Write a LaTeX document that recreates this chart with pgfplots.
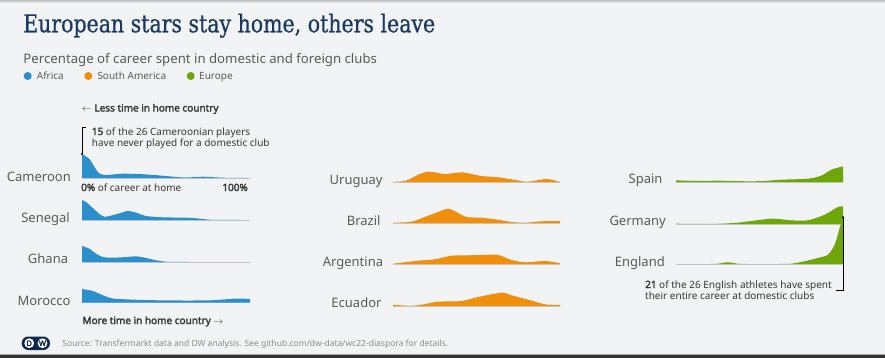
\documentclass[border=0pt]{standalone}
\usepackage{pgfplots}
\pgfplotsset{compat=1.18}
\usepackage{fontspec}
\setmainfont{Noto Sans}[BoldFont={Noto Sans}, BoldFeatures={FakeBold=2.4}]
\newfontfamily\titlefont{DejaVu Serif}[FakeBold=0.7]
\definecolor{bg}{RGB}{241,243,245}
\definecolor{afr}{RGB}{43,143,203}
\definecolor{sam}{RGB}{240,143,12}
\definecolor{eur}{RGB}{108,166,8}
\definecolor{navy}{RGB}{26,57,94}
\definecolor{lab}{RGB}{90,90,90}
\definecolor{ann}{RGB}{55,55,55}
\definecolor{src}{RGB}{140,140,140}
\definecolor{basel}{RGB}{200,203,206}
\definecolor{dwnavy}{RGB}{12,38,78}
\pgfplotsset{ridge/.style={scale only axis, hide axis, width=167bp, height=50bp,
  xmin=0, xmax=100, ymin=0, ymax=50, clip=false, anchor=south west}}
\newcommand\ridge[2]{%
  \addplot[basel, line width=0.8bp, forget plot] coordinates {(0,0) (100,0)};
  \addplot[fill=#1, draw=none, smooth, tension=0.45] coordinates {#2} \closedcycle;
}
\begin{document}
\begin{tikzpicture}
\begin{scope}[x=1bp,y=-1bp]
\fill[bg] (0,0) rectangle (885,358);
\shade[top color=black!25, bottom color=bg] (0,0) rectangle (885,3);
\fill[black!35] (0,353.5) rectangle (885,355.3);
\fill[black!80] (0,355.3) rectangle (885,358);
% title
\node[anchor=base west, inner sep=0, text=navy] at (23,32.3)
  {\resizebox{412bp}{18.7bp}{\titlefont European stars stay home, others leave}};
\node[anchor=base west, inner sep=0, text=lab, font=\fontsize{13.2bp}{16bp}\selectfont] at (23.3,63.3)
  {Percentage of career spent in domestic and foreign clubs};
% legend
\begin{scope}[every node/.style={anchor=base west, inner sep=0, text=lab, font=\fontsize{10bp}{12bp}\selectfont}]
\fill[afr] (27.7,76) circle (4);
\node at (36.7,79.5) {Africa};
\fill[sam] (88.3,76) circle (4);
\node at (97.3,79.5) {South America};
\fill[eur] (190.7,76) circle (4);
\node at (199,79.5) {Europe};
\end{scope}
% axis explanations
\begin{scope}[every node/.style={inner sep=0, text=ann, font=\fontsize{10bp}{12bp}\selectfont}]
\node[anchor=base west] at (81.7,111.5) {$\leftarrow$ \textbf{Less time in home country}};
\node[anchor=base west] at (82.3,324) {\textbf{More time in home country} $\rightarrow$};
\node[anchor=base west] at (81,191) {\textbf{0\%} of career at home};
\node[anchor=base east] at (248,191) {\textbf{100\%}};
\node[anchor=base west] at (91.7,135) {\textbf{15} of the 26 Cameroonian players};
\node[anchor=base west] at (91.7,146) {have never played for a domestic club};
\node[anchor=base west] at (645,288) {\textbf{21} of the 26 English athletes have spent};
\node[anchor=base west] at (645,299) {their entire career at domestic clubs};
\end{scope}
% country labels
\begin{scope}[every node/.style={anchor=base east, inner sep=0, text=lab, font=\fontsize{13bp}{15bp}\selectfont}]
\node at (71,181.7) {Cameroon};
\node at (70,222.3) {Senegal};
\node at (68.3,263.3) {Ghana};
\node at (70.7,305) {Morocco};
\node at (382.7,184.3) {Uruguay};
\node at (380.7,225.7) {Brazil};
\node at (383.3,266) {Argentina};
\node at (381.7,307.3) {Ecuador};
\node at (662.7,183.3) {Spain};
\node at (666,225) {Germany};
\node at (665,266) {England};
\end{scope}
% footer
\fill[dwnavy, rounded corners=6.7] (21.7,336.5) rectangle (50,350);
\fill[white] (29.2,343.2) circle (4.9);
\fill[white] (42.5,343.2) circle (4.9);
\node[inner sep=0, text=dwnavy, font=\fontsize{7.5bp}{8bp}\selectfont\bfseries] at (29.2,343.3) {D};
\node[inner sep=0, text=dwnavy, font=\fontsize{7.5bp}{8bp}\selectfont\bfseries] at (42.5,343.3) {W};
\node[anchor=base west, inner sep=0, text=src, font=\fontsize{8.5bp}{10bp}\selectfont] at (62.3,346.3)
  {Source: Transfermarkt data and DW analysis. See github.com/dw-data/wc22-diaspora for details.};
\end{scope}
% ---- Africa
\begin{axis}[ridge, width=168bp, at={(82bp,-178bp)}]
\ridge{afr}{(0,24)(4.4,19)(7.4,11)(10,5)(12.5,3.3)(15,3)(24,4.3)(36,3.8)(50,2)(56,1)(62,0.5)(72,1.3)(82,0.4)(90,0.1)(100,0)}
\draw[black, line width=0.6bp] (axis cs:0,24) -- (axis cs:0,50.7) -- ++(3.7bp,0);
\fill[black] (axis cs:0,24) circle (1.2bp);
\end{axis}
\begin{axis}[ridge, width=168bp, at={(82bp,-220bp)}]
\ridge{afr}{(0,20)(2.4,18)(6.4,12)(10.4,6)(13.3,3.3)(16.3,4)(22.3,6.7)(27.3,9)(32.3,7.3)(38.2,4)(48.2,2.7)(62.2,2.3)(68.1,1.7)(76,0.3)(85,0.05)(100,0)}
\end{axis}
\begin{axis}[ridge, width=168bp, at={(82bp,-262bp)}]
\ridge{afr}{(0,16)(4.4,13.3)(8.4,8.3)(12.4,5)(18.3,4.3)(26.3,5)(32.3,5.7)(38.2,4)(44.2,1.7)(50.2,0.3)(58,0.05)(70,0)(100,0)}
\end{axis}
\begin{axis}[ridge, width=168bp, at={(82bp,-302.5bp)}]
\ridge{afr}{(0,13.5)(6.4,11.5)(12.4,7.3)(18.3,4)(28.3,3)(42.2,2.3)(62.2,2)(78,2.3)(92,4)(100,3.5)}
\end{axis}
% ---- South America
\begin{axis}[ridge, at={(393bp,-182bp)}]
\ridge{sam}{(0,0)(7,1)(11,3.7)(16,8)(21,10.3)(25,9.7)(31,8)(41,9.7)(47,8)(53,6)(63,4.7)(71,2.7)(79,0.3)(83,0.7)(91,3)(95,2.3)(100,0)}
\end{axis}
\begin{axis}[ridge, at={(393bp,-223bp)}]
\ridge{sam}{(0,0.3)(11,1.3)(19,6)(27,11)(33,14.3)(38,11)(44,6)(53,5.3)(63,3.3)(71,1)(79,0.3)(89,1.7)(100,2)}
\end{axis}
\begin{axis}[ridge, at={(393bp,-264bp)}]
\ridge{sam}{(0,0.3)(15,3.3)(25,4.7)(35,8.3)(45,8.7)(61,9.3)(65,8)(71,4)(79,1.7)(91,3)(100,0.7)}
\end{axis}
\begin{axis}[ridge, at={(393bp,-306bp)}]
\ridge{sam}{(0,1.3)(8,0.3)(11,0.2)(17,1.3)(27,4.3)(41,5)(51,9)(65,13.3)(71,10.7)(81,6.3)(91,1.7)(100,1)}
\end{axis}
% ---- Europe
\begin{axis}[ridge, at={(676bp,-182bp)}]
\ridge{eur}{(0,1.7)(13,1)(25,1.3)(43,0.7)(53,1)(63,2.3)(79,3.3)(87,6.3)(93,12.3)(100,15.7)}
\end{axis}
\begin{axis}[ridge, at={(676bp,-224bp)}]
\ridge{eur}{(0,0.3)(15,0.05)(23,0.1)(37,1.3)(57,5.3)(69,3.7)(79,3.7)(89,9.3)(97,17)(100,17.7)}
\end{axis}
\begin{axis}[ridge, at={(676bp,-264bp)}]
\ridge{eur}{(0,0)(20,0)(25,0.3)(31,1.7)(37,0.3)(43,0)(60,0)(69,0.3)(77,2.7)(85,6)(91,9.3)(95,19.3)(98,36)(100,46.7)}
\draw[black, line width=0.6bp] (axis cs:100,46.7) -- (axis cs:100,-26) -- ++(-7.3bp,0);
\fill[black] (axis cs:100,46.7) circle (1.2bp);
\end{axis}
\end{tikzpicture}
\end{document}
